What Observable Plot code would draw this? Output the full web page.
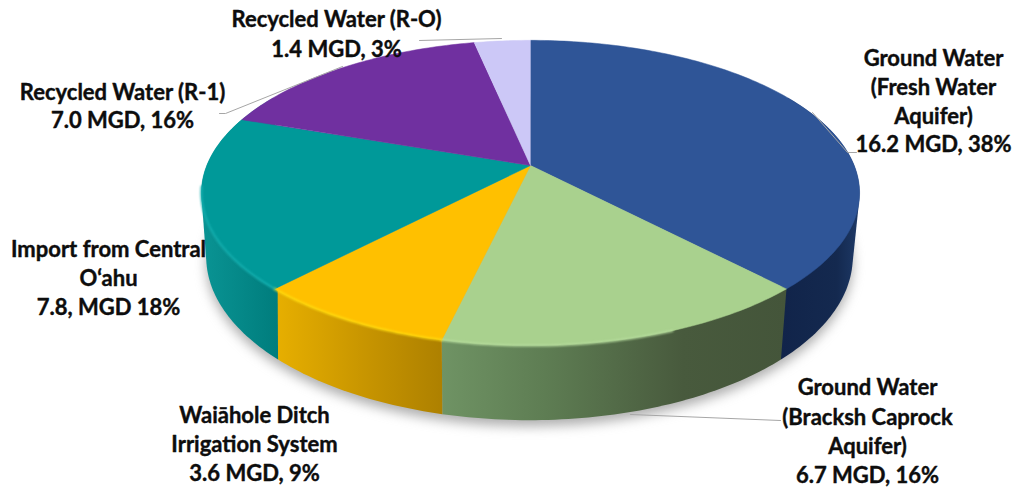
<!DOCTYPE html>
<html>
<head>
<meta charset="utf-8">
<script src="https://cdn.jsdelivr.net/npm/d3@7"></script>
<script src="https://cdn.jsdelivr.net/npm/@observablehq/plot@0.6"></script>
<style>
  html, body { margin: 0; padding: 0; background: #fff; }
</style>
</head>
<body>
<div id="chart"></div>
<script>
// Water sources, in million gallons per day
const sources = [
  "Ground Water (Fresh Water Aquifer)",
  "Ground Water (Bracksh Caprock Aquifer)",
  "Waiāhole Ditch Irrigation System",
  "Import from Central O‘ahu",
  "Recycled Water (R-1)",
  "Recycled Water (R-O)"
];
const mgd = [16.2, 6.7, 3.6, 7.8, 7.0, 1.4];
const faceColors = ["#2f5597", "#a9d18e", "#ffc000", "#009999", "#7030a0", "#ccc8f7"];
const labelLines = [
  ["Ground Water", "(Fresh Water", "Aquifer)", "16.2 MGD, 38%"],
  ["Ground Water", "(Bracksh Caprock", "Aquifer)", "6.7 MGD, 16%"],
  ["Waiāhole Ditch", "Irrigation System", "3.6 MGD, 9%"],
  ["Import from Central", "O‘ahu", "7.8, MGD 18%"],
  ["Recycled Water (R-1)", "7.0 MGD, 16%"],
  ["Recycled Water (R-O)", "1.4 MGD, 3%"]
];

// Where each label block sits: centre x, and the y of its first and later lines
const labelAnchors = [
  {x: 933, ys: [58, 87, 116, 144]},
  {x: 867, ys: [387, 417, 446, 475]},
  {x: 254, ys: [415, 444, 473]},
  {x: 108, ys: [249, 278, 307]},
  {x: 122, ys: [92, 120]},
  {x: 336, ys: [19, 49]}
];
const leaders = [
  [[856, 152], [847, 152], [812, 112]],
  [[780, 420], [630, 414]],
  [[219, 113], [225, 113], [342, 66]],
  [[419, 40], [501, 38]]
];

// Perspective view of a flat disc: the near side is enlarged
const persp = -0.18;
const topPlane = {cx: 530, cy: 165, a: 323.7, b: 147.7};
const basePlane = {cx: 529, cy: 227, a: 318, b: 158};
function project(deg, plane) {
  const t = deg * Math.PI / 180, u = Math.sin(t), v = -Math.cos(t), w = 1 + persp * v;
  return [plane.cx + plane.a * u / w, plane.cy + plane.b * v / w];
}
function arc(from, to, plane) {
  const n = Math.max(2, Math.ceil(Math.abs(to - from)));
  return d3.range(n + 1).map(i => project(from + (to - from) * i / n, plane));
}

const total = d3.sum(mgd);
const ends = Array.from(d3.cumsum(mgd), d => d / total * 360);
const slices = mgd.map((d, i) => ({start: i ? ends[i - 1] : 0, end: ends[i], color: faceColors[i]}));
const centre = [topPlane.cx, topPlane.cy];

// Wall pieces facing the viewer, with the sweep extended behind the top face at the edges
const wall = (from, to) => d3.polygonHull([...arc(from, to, topPlane), ...arc(from, to, basePlane)]);
const walls = [
  {pts: wall(60, slices[0].end), fill: "url(#wall-blue)"},
  {pts: wall(slices[1].start, slices[1].end), fill: "url(#wall-green)"},
  {pts: wall(slices[2].start, slices[2].end), fill: "url(#wall-yellow)"},
  {pts: wall(slices[3].start, 300), fill: "url(#wall-teal)"}
];
const highlights = [
  {pts: arc(slices[1].start + 22, slices[1].end, topPlane), stroke: "#b6dc9d"},
  {pts: arc(slices[2].start, slices[2].end, topPlane), stroke: "#ffdc10"},
  {pts: arc(slices[3].start, 262, topPlane), stroke: "#16b0b0"}
];

const gradients = [
  ["wall-blue", 781, 860, [["0%", "#11244a"], ["70%", "#14294f"], ["100%", "#1e3a68"]]],
  ["wall-green", 441, 786, [["0%", "#6f9364"], ["30%", "#5e7d53"], ["70%", "#485a3d"], ["100%", "#44553a"]]],
  ["wall-yellow", 272, 443, [["0%", "#e8b000"], ["60%", "#c49200"], ["100%", "#ad8000"]]],
  ["wall-teal", 200, 277, [["0%", "#0a9494"], ["100%", "#007d7d"]]]
];
const defs = () => {
  const svg = d3.create("svg:defs");
  for (const [id, x1, x2, stops] of gradients) {
    const g = svg.append("linearGradient").attr("id", id).attr("gradientUnits", "userSpaceOnUse")
      .attr("x1", x1).attr("x2", x2).attr("y1", 0).attr("y2", 0);
    for (const [o, c] of stops) g.append("stop").attr("offset", o).attr("stop-color", c);
  }
  return svg.node();
};

const xy = {x: d => d[0], y: d => d[1]};
const labels = labelLines.flatMap((lines, i) =>
  lines.map((text, j) => ({text, x: labelAnchors[i].x, y: labelAnchors[i].ys[j]})));
const shadow = arc(0, 360, basePlane).map(([x, y]) => [x, y + 6]);

const chart = Plot.plot({
  width: 1016,
  height: 491,
  margin: 0,
  style: {background: "#fff"},
  x: {axis: null, domain: [0, 1016], range: [0, 1016]},
  y: {axis: null, domain: [0, 491], range: [0, 491]},
  marks: [
    defs,
    // soft shadow on the ground
    Plot.line(shadow, {...xy, fill: "#8c8c8c", stroke: "none", fillOpacity: 0.7, imageFilter: "blur(6px)"}),
    // walls
    ...walls.map(w => Plot.line(w.pts, {...xy, fill: w.fill, stroke: "none"})),
    // top faces
    ...slices.map(s => Plot.line(
      [centre, ...arc(s.start, s.end, topPlane)],
      {...xy, fill: s.color, stroke: s.color, strokeWidth: 0.5}
    )),
    // bevel along the front rim
    ...highlights.map(h => Plot.line(h.pts, {...xy, stroke: h.stroke, strokeWidth: 2, imageFilter: "blur(0.8px)"})),
    // leader lines
    ...leaders.map(l => Plot.line(l, {...xy, stroke: "#a6a6a6", strokeWidth: 1})),
    Plot.text(labels, {
      x: "x", y: "y", text: "text",
      fontFamily: "Lato", fontWeight: 700, fontSize: 22, fill: "#0d0d0d",
      stroke: "#0d0d0d", strokeWidth: 0.4, paintOrder: "fill",
      textAnchor: "middle", lineAnchor: "middle"
    })
  ]
});
document.getElementById("chart").append(chart);
</script>
</body>
</html>
